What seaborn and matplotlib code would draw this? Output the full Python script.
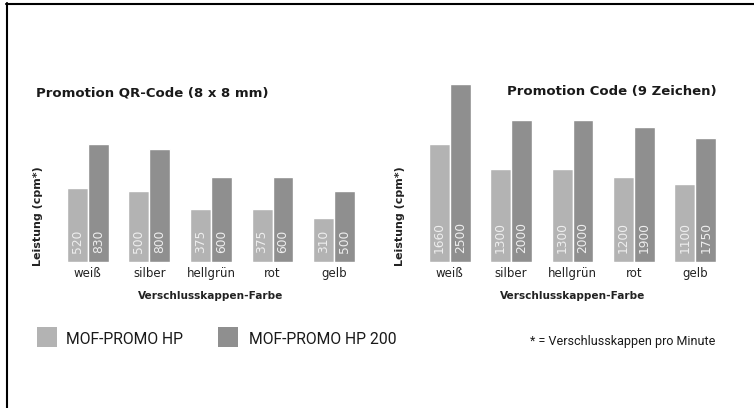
import matplotlib
matplotlib.use("Agg")
import matplotlib.pyplot as plt
import seaborn as sns
import pandas as pd
from matplotlib.patches import Rectangle
from matplotlib.lines import Line2D
from matplotlib import font_manager

# ---------------- data ----------------
categories = ["weiß", "silber", "hellgrün", "rot", "gelb"]
series_names = ["MOF-PROMO HP", "MOF-PROMO HP 200"]
qr_hp = [520, 500, 375, 375, 310]
qr_hp200 = [830, 800, 600, 600, 500]
code_hp = [1660, 1300, 1300, 1200, 1100]
code_hp200 = [2500, 2000, 2000, 1900, 1750]
titles = ["Promotion QR-Code (8 x 8 mm)", "Promotion Code (9 Zeichen)"]
xlabel = "Verschlusskappen-Farbe"
ylabel = "Leistung (cpm*)"
footnote = "* = Verschlusskappen pro Minute"

colors = ["#b3b3b3", "#8f8f8f"]

sns.set_style("white")
plt.rcParams["font.family"] = ["DejaVu Sans"]

W, H = 754, 408
fig = plt.figure(figsize=(W / 100, H / 100), dpi=100)


def px_axes(left, top, right, bottom):
    return fig.add_axes([left / W, 1 - bottom / H, (right - left) / W, (bottom - top) / H])


def long_df(a, b):
    return pd.DataFrame({
        "Farbe": categories * 2,
        "Modell": [series_names[0]] * len(categories) + [series_names[1]] * len(categories),
        "Leistung": list(a) + list(b),
    })


base_y = 261.7
top_y = 70.0
panels = [
    (56.9, 364.9, long_df(qr_hp, qr_hp200), 0.14145),
    (419.0, 726.0, long_df(code_hp, code_hp200), 0.07096),
]

narrow = ["Roboto", "DejaVu Sans"]

for i, (l, r, df, scale) in enumerate(panels):
    ax = px_axes(l, top_y, r, base_y)
    sns.barplot(data=df, x="Farbe", y="Leistung", hue="Modell", palette=colors,
                width=0.68, gap=0, saturation=1, legend=False, ax=ax,
                errorbar=None)
    ax.set_xlim(-0.5, len(categories) - 0.5)
    ax.set_ylim(0, (base_y - top_y) / scale)
    for s in ax.spines.values():
        s.set_visible(False)
    ax.set_yticks([])
    ax.tick_params(axis="x", length=0, pad=3.5, labelsize=8.5, labelcolor="#222222")
    ax.set_xlabel(xlabel, fontsize=7.6, fontweight="bold", color="#222222", labelpad=8.5)
    ax.set_ylabel(ylabel, fontsize=8, fontweight="bold", color="#222222")
    ax.yaxis.set_label_coords(-13.8 / (r - l), (base_y - 216.5) / (base_y - top_y))
    for cont in ax.containers:
        for bar in cont:
            v = bar.get_height()
            ax.annotate(f"{v:.0f}", xy=(bar.get_x() + bar.get_width() / 2, 0),
                        xytext=(0, 6.3), textcoords="offset points",
                        rotation=90, ha="center", va="bottom",
                        fontsize=8.8, color="#eeeeee")

# titles
fig.text(36 / W, 1 - 93 / H, titles[0], fontsize=9.5, fontweight="bold",
         ha="left", va="center", color="#1a1a1a")
fig.text(717 / W, 1 - 92 / H, titles[1], fontsize=9.5, fontweight="bold",
         ha="right", va="center", color="#1a1a1a")

# legend
fig.patches.append(Rectangle((37 / W, 1 - 347 / H), 20 / W, 20 / H, transform=fig.transFigure,
                             facecolor=colors[0], edgecolor="none"))
fig.text(66 / W, 1 - 339 / H, series_names[0], fontsize=11.3, family=narrow,
         ha="left", va="center", color="#1a1a1a")
fig.patches.append(Rectangle((218 / W, 1 - 347 / H), 20 / W, 20 / H, transform=fig.transFigure,
                             facecolor=colors[1], edgecolor="none"))
fig.text(249 / W, 1 - 339 / H, series_names[1], fontsize=11.3, family=narrow,
         ha="left", va="center", color="#1a1a1a")
fig.text(530 / W, 1 - 341 / H, footnote, fontsize=9, family=narrow,
         ha="left", va="center", color="#1a1a1a")

# frame (top and left only)
fig.add_artist(Line2D([7 / W, 7 / W], [0, 1 - 3 / H], color="black", lw=1.5,
                      transform=fig.transFigure))
fig.add_artist(Line2D([6 / W, 1], [1 - 4 / H, 1 - 4 / H], color="black", lw=1.5,
                      transform=fig.transFigure))

fig.savefig("out.png", dpi=100, facecolor="white")
